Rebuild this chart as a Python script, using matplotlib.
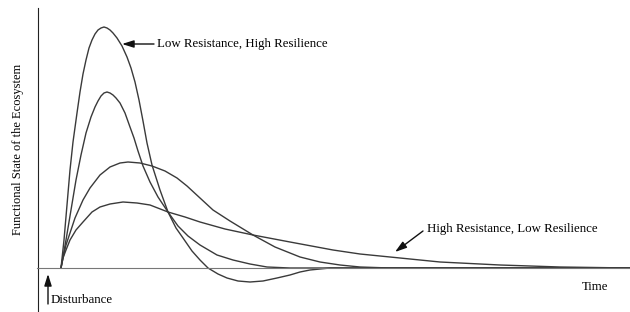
#!/usr/bin/env python3

import matplotlib.pyplot as plt

# time since the disturbance and functional state
t_low_res = [0, 3, 6, 9, 12, 16, 19, 22, 25, 28, 31, 34, 37, 40, 43, 46, 49, 52, 56, 61, 66,
             70, 74, 78, 82, 86, 91, 99, 107, 115, 122, 131, 139, 147, 157, 166, 177, 189,
             202, 216, 229, 239, 249, 269, 569]
s_low_res = [0, 28, 63, 98, 126, 155, 176, 194, 208, 220, 228, 234, 238, 240, 241, 240, 238,
             235, 230, 222, 211, 200, 186, 168, 147, 125, 103, 78, 56, 40, 30, 17, 8, 0, -6,
             -10, -13, -14, -13, -10, -7, -4, -2, 0, 0]

t_second = [0, 5, 10, 15, 20, 25, 30, 34, 37, 40, 43, 46, 49, 52, 55, 59, 64, 69, 73, 77,
            82, 89, 97, 107, 117, 127, 139, 156, 172, 189, 206, 229, 569]
s_second = [0, 28, 58, 88, 113, 135, 151, 161, 167, 172, 175, 176, 175, 173, 170, 165, 155,
            141, 130, 117, 102, 86, 71, 56, 42, 32, 23, 13, 8, 4, 1, 0, 0]

t_third = [0, 2, 5, 9, 14, 22, 29, 39, 49, 59, 67, 79, 91, 104, 116, 126, 139, 152, 169,
           192, 214, 239, 259, 279, 299, 329, 569]
s_third = [0, 10, 23, 35, 50, 68, 80, 93, 101, 105, 106, 105, 102, 97, 90, 82, 70, 58, 47,
           33, 21, 11, 6, 3, 1, 0, 0]

t_high_res = [0, 2, 5, 9, 15, 22, 31, 39, 49, 62, 76, 89, 107, 124, 139, 164, 192, 229, 272,
              299, 339, 379, 439, 499, 569]
s_high_res = [0, 10, 18, 28, 38, 46, 56, 61, 64, 66, 65, 63, 56, 51, 46, 39, 33, 26, 18, 14,
              10, 6, 3, 1, 0]

plt.rcParams['font.family'] = ['Liberation Serif', 'DejaVu Serif']

fig = plt.figure(figsize=(6.3, 3.12), dpi=100)
ax = fig.add_axes([0, 0, 1, 1])
ax.set_xlim(-61, 569)
ax.set_ylim(-44, 268)

# axes drawn as in the sketch: y axis left of the disturbance, x axis at zero
for side in ['top', 'right']:
    ax.spines[side].set_visible(False)
ax.spines['left'].set_position(('data', -23))
ax.spines['left'].set_bounds(-44, 260)
ax.spines['left'].set_color('#222222')
ax.spines['bottom'].set_position(('data', 0))
ax.spines['bottom'].set_bounds(-24, 569)
ax.spines['bottom'].set_color('#777777')
ax.set_xticks([])
ax.set_yticks([])
ax.patch.set_visible(False)

line_color = '#3a3a3a'
for t, s in [(t_low_res, s_low_res), (t_second, s_second),
             (t_third, s_third), (t_high_res, s_high_res)]:
    ax.plot(t, s, color=line_color, lw=1.0, solid_joinstyle='round')

arrow = dict(arrowstyle='-|>,head_length=0.7,head_width=0.22', color='#111111', lw=1.0,
             shrinkA=0, shrinkB=0)

ax.annotate('', xy=(61, 224), xytext=(93, 224), arrowprops=arrow)
ax.text(96, 224, 'Low Resistance, High Resilience', fontsize=9.3, va='center', ha='left')

ax.annotate('', xy=(334, 16), xytext=(362, 37), arrowprops=arrow)
ax.text(366, 39, 'High Resistance, Low Resilience', fontsize=9.3, va='center', ha='left')

ax.annotate('', xy=(-13, -6), xytext=(-13, -36), arrowprops=arrow)
ax.text(-10, -32, 'Disturbance', fontsize=9.3, va='center', ha='left')
ax.text(521, -19, 'Time', fontsize=9.3, va='center', ha='left')
ax.text(-43, 119, 'Functional State of the Ecosystem', fontsize=9, rotation=90,
        va='center', ha='center')

plt.savefig('out.png', dpi=100)
plt.close()
